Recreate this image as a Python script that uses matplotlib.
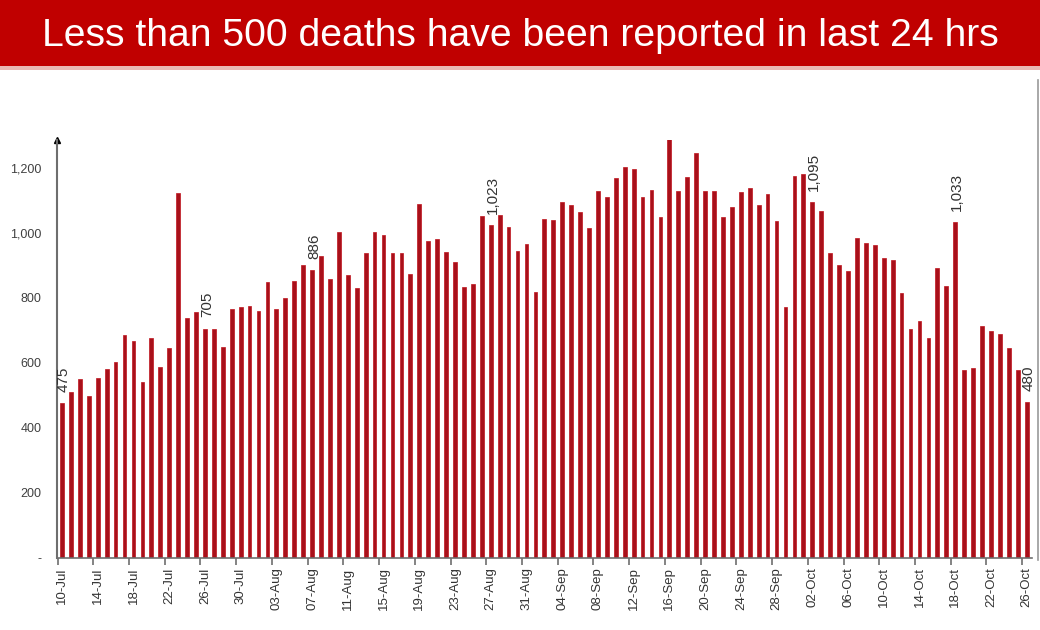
import pandas as pd
import matplotlib
matplotlib.use('Agg')
import matplotlib.pyplot as plt
from matplotlib import font_manager
from matplotlib.patches import Rectangle
from matplotlib.lines import Line2D
from matplotlib.ticker import FuncFormatter

# Daily deaths, 10-Jul to 26-Oct
jul = [475, 511, 549, 497, 552, 580, 603, 685, 668, 542, 677, 586, 646, 1123,
       737, 755, 705, 705, 649, 764, 772, 774]
aug = [760, 849, 766, 799, 851, 899, 886, 928, 857, 1001, 869, 829, 937, 1001,
       992, 938, 937, 873, 1088, 973, 980, 940, 909, 832, 842, 1052, 1023, 1053,
       1018, 943, 965]
sep = [817, 1041, 1039, 1094, 1084, 1062, 1013, 1129, 1111, 1167, 1203, 1196,
       1111, 1131, 1049, 1290, 1129, 1170, 1244, 1129, 1127, 1049, 1080, 1125,
       1137, 1084, 1119, 1037, 772, 1175]
octo = [1180, 1095, 1067, 937, 900, 881, 983, 967, 961, 923, 915, 813, 704,
        727, 677, 892, 836, 1033, 578, 583, 714, 698, 687, 645, 578, 480]
deaths = jul + aug + sep + octo
dates = pd.date_range('2020-07-10', '2020-10-26').strftime('%d-%b').tolist()

# bars that carry a value label
label_dates = ['10-Jul', '26-Jul', '07-Aug', '27-Aug', '16-Sep', '02-Oct', '18-Oct', '26-Oct']

title = 'Less than 500 deaths have been reported in last 24 hrs'

installed = {f.name for f in font_manager.fontManager.ttflist}
title_font = 'Liberation Sans Narrow' if 'Liberation Sans Narrow' in installed else 'Liberation Sans'
plt.rcParams['font.family'] = ['Liberation Sans', 'DejaVu Sans']

fig = plt.figure(figsize=(10.4, 6.3), dpi=100)
fig.patch.set_facecolor('white')

# red banner
fig.patches.append(Rectangle((0, 1 - 66 / 630), 1, 66 / 630, transform=fig.transFigure,
                             facecolor='#c00000', edgecolor='none', zorder=0))
fig.patches.append(Rectangle((0, 1 - 70 / 630), 1, 4 / 630, transform=fig.transFigure,
                             facecolor='#eab8b3', edgecolor='none', zorder=0))
t = fig.text(0.5, 1 - 36 / 630, title, color='white', ha='center', va='center',
             fontsize=26, family=title_font)
# fit the title into the banner width
fig.canvas.draw()
w = t.get_window_extent().width
t.set_fontsize(26 * 955 / w)

# right frame line of the slide
fig.add_artist(Line2D([1038 / 1040, 1038 / 1040], [1 - 560 / 630, 1 - 80 / 630],
                      transform=fig.transFigure, color='#9a9a9a', lw=1.2))

ax = fig.add_axes([57 / 1040, 72.3 / 630, 975 / 1040, 417.7 / 630])
x = list(range(len(deaths)))
ax.bar(x, deaths, width=0.42, color='#a8101a', edgecolor='#c0141c', linewidth=0.5, zorder=2)

ax.set_xlim(-0.56, len(deaths) - 0.4)
ax.set_ylim(0, 1285)

for spine in ['top', 'right']:
    ax.spines[spine].set_visible(False)
ax.spines['left'].set_color('#6e6e6e')
ax.spines['left'].set_linewidth(1.5)
ax.spines['bottom'].set_color('#6e6e6e')
ax.spines['bottom'].set_linewidth(1.2)
ax.plot(0, 1, marker='^', color='black', markersize=4, transform=ax.transAxes, clip_on=False)

ax.set_yticks(range(0, 1201, 200))
ax.yaxis.set_major_formatter(FuncFormatter(lambda v, p: '-' if v == 0 else f'{v:,.0f}'))
ax.tick_params(axis='y', length=0, pad=11, labelsize=9, labelcolor='#404040')

ax.set_xticks(x[::4])
ax.set_xticklabels(dates[::4], rotation=90)
ax.set_xticks([i - 0.5 for i in x[::4]], minor=True)
ax.tick_params(axis='x', which='major', length=0, pad=7, labelsize=9.5, labelcolor='#333333')
ax.tick_params(axis='x', which='minor', length=5, width=1.2, color='#6e6e6e', direction='out')

for d in label_dates:
    i = dates.index(d)
    ax.annotate(f'{deaths[i]:,}', (i, deaths[i]), xytext=(1.5, 8), textcoords='offset points',
                rotation=90, ha='center', va='bottom', fontsize=11, color='#333333',
                clip_on=False)

fig.savefig('out.png', dpi=100, facecolor='white')
